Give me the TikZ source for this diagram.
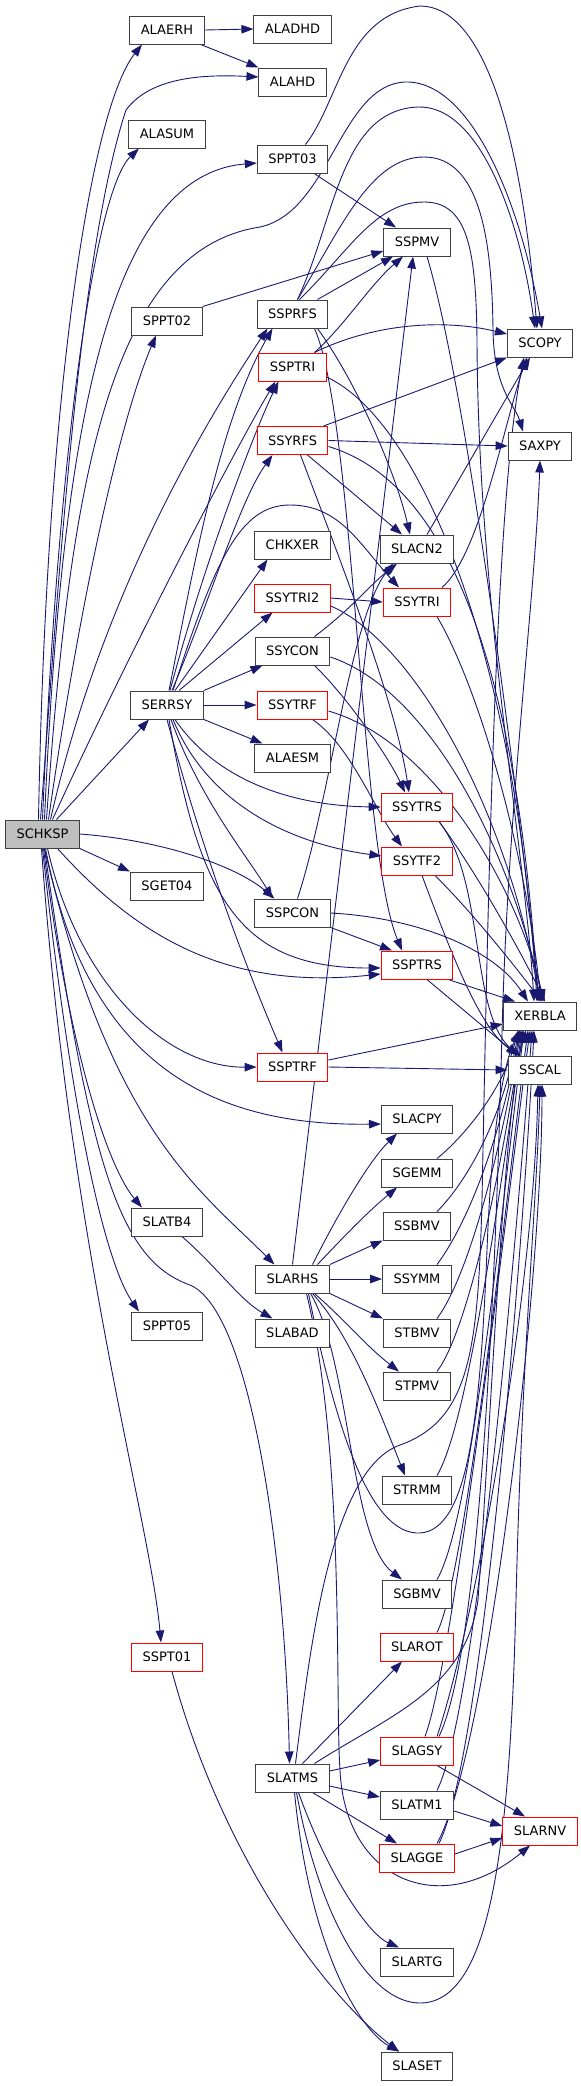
\documentclass[tikz,border=0pt]{standalone}
\usepackage{fontspec}
\setmainfont{DejaVu Sans}
\usepackage{tikz}
\usetikzlibrary{arrows.meta, backgrounds}

\definecolor{edgeblue}{RGB}{25,25,112}
\definecolor{boxline}{RGB}{64,64,64}
\definecolor{rootgray}{RGB}{191,191,191}

\begin{document}
\begin{tikzpicture}[x=1pt, y=-1pt,
    fn/.style={rectangle, draw=boxline, line width=1pt, fill=white, minimum height=28pt, inner xsep=11pt, inner ysep=0pt, font=\fontsize{13}{15}\selectfont},
    redfn/.style={fn, draw=red},
    rootfn/.style={fn, fill=rootgray},
    call/.style={draw=edgeblue, line width=0.9pt, -{Triangle[length=12pt,width=8.5pt]}}]

    \useasboundingbox (0,0) rectangle (581,2086);

    % left columns
    \node [rootfn] (schksp) at (42.5,834) {SCHKSP};
    \node [fn] (alaerh) at (167,30) {ALAERH};
    \node [fn] (alasum) at (167,134) {ALASUM};
    \node [fn] (sppt02) at (167,321) {SPPT02};
    \node [fn] (serrsy) at (167,705) {SERRSY};
    \node [fn] (sget04) at (167,886) {SGET04};
    \node [fn] (slatb4) at (167,1222) {SLATB4};
    \node [fn] (sppt05) at (167,1326) {SPPT05};
    \node [redfn] (sspt01) at (167,1657) {SSPT01};

    % middle column
    \node [fn] (aladhd) at (292.5,29) {ALADHD};
    \node [fn] (alahd) at (292.5,82) {ALAHD};
    \node [fn] (sppt03) at (292.5,159) {SPPT03};
    \node [fn] (ssprfs) at (292.5,314) {SSPRFS};
    \node [redfn] (ssptri) at (292.5,367) {SSPTRI};
    \node [redfn] (ssyrfs) at (292.5,440.5) {SSYRFS};
    \node [fn] (chkxer) at (292.5,545) {CHKXER};
    \node [redfn] (ssytri2) at (292.5,598) {SSYTRI2};
    \node [fn] (ssycon) at (292.5,651) {SSYCON};
    \node [redfn] (ssytrf) at (292.5,705) {SSYTRF};
    \node [fn] (alaesm) at (292.5,758) {ALAESM};
    \node [fn] (sspcon) at (292.5,913) {SSPCON};
    \node [redfn] (ssptrf) at (292.5,1067) {SSPTRF};
    \node [fn] (slarhs) at (292.5,1279) {SLARHS};
    \node [fn] (slabad) at (292.5,1333) {SLABAD};
    \node [fn] (slatms) at (292.5,1778) {SLATMS};

    % third column
    \node [fn] (sspmv) at (417,242) {SSPMV};
    \node [fn] (slacn2) at (417,549) {SLACN2};
    \node [redfn] (ssytri) at (417,602) {SSYTRI};
    \node [redfn] (ssytrs) at (417,807) {SSYTRS};
    \node [redfn] (ssytf2) at (417,861) {SSYTF2};
    \node [redfn] (ssptrs) at (417,965) {SSPTRS};
    \node [fn] (slacpy) at (417,1119) {SLACPY};
    \node [fn] (sgemm) at (417,1173) {SGEMM};
    \node [fn] (ssbmv) at (417,1226) {SSBMV};
    \node [fn] (ssymm) at (417,1279) {SSYMM};
    \node [fn] (stbmv) at (417,1333) {STBMV};
    \node [fn] (stpmv) at (417,1386) {STPMV};
    \node [fn] (strmm) at (417,1490) {STRMM};
    \node [fn] (sgbmv) at (417,1594) {SGBMV};
    \node [redfn] (slarot) at (417,1647) {SLAROT};
    \node [redfn] (slagsy) at (417,1751) {SLAGSY};
    \node [fn] (slatm1) at (417,1805) {SLATM1};
    \node [redfn] (slagge) at (417,1858) {SLAGGE};
    \node [fn] (slartg) at (417,1962) {SLARTG};
    \node [fn] (slaset) at (417,2066) {SLASET};

    % right column
    \node [fn] (scopy) at (540,343) {SCOPY};
    \node [fn] (saxpy) at (540,446) {SAXPY};
    \node [fn] (xerbla) at (540,1016) {XERBLA};
    \node [fn] (sscal) at (540,1070) {SSCAL};
    \node [redfn] (slarnv) at (540,1831) {SLARNV};

    \begin{scope}[on background layer]
    % SCHKSP
    \draw [call] ([xshift=-4pt]schksp.north) .. controls (46,400) and (90,110) .. ([xshift=-25pt]alaerh.south);
    \draw [call] ([xshift=-2pt]schksp.north) .. controls (60,560) and (80,250) .. (126,110) .. controls (150,78) and (200,74) .. ([yshift=5pt]alahd.west);
    \draw [call] (schksp.north) .. controls (58,450) and (95,190) .. ([xshift=-28pt]alasum.south);
    \draw [call] ([xshift=2pt]schksp.north) .. controls (62,420) and (110,175) .. ([yshift=-4pt]sppt03.west);
    \draw [call] ([xshift=4pt]schksp.north) .. controls (70,480) and (110,250) .. (260,227) .. controls (330,212) and (340,85) .. (405,82) .. controls (470,80) and (520,200) .. ([xshift=2pt]scopy.north);
    \draw [call] ([xshift=6pt]schksp.north) .. controls (80,600) and (120,420) .. ([xshift=-11pt]sppt02.south);
    \draw [call] ([xshift=8pt]schksp.north) .. controls (100,600) and (200,430) .. ([xshift=-25pt]ssprfs.south);
    \draw [call] ([xshift=10pt]schksp.north) .. controls (130,650) and (240,440) .. ([xshift=-17pt]ssptri.south);
    \draw [call] ([xshift=14pt]schksp.north) -- ([xshift=-18pt]serrsy.south);
    \draw [call] (schksp.south east) -- (sget04.north west);
    \draw [call] (schksp.east) .. controls (160,840) and (235,865) .. ([xshift=-18pt]sspcon.north);
    \draw [call] ([xshift=15pt]schksp.south) .. controls (140,940) and (230,990) .. ([yshift=-9pt]ssptrs.west);
    \draw [call] ([xshift=5pt]schksp.south) .. controls (80,990) and (170,1068) .. (ssptrf.west);
    \draw [call] ([xshift=3pt]schksp.south) .. controls (90,1080) and (230,1126) .. ([yshift=-5pt]slacpy.west);
    \draw [call] ([xshift=2pt]schksp.south) .. controls (110,1130) and (200,1190) .. ([xshift=-18pt]slarhs.north);
    \draw [call] ([xshift=1pt]schksp.south) .. controls (70,1060) and (110,1170) .. ([xshift=-25pt]slatb4.north);
    \draw [call] (schksp.south) .. controls (75,1150) and (110,1270) .. ([xshift=-28pt]sppt05.north);
    \draw [call] ([xshift=-1pt]schksp.south) .. controls (70,1250) and (150,1520) .. ([xshift=-6pt]sspt01.north);
    \draw [call] ([xshift=2pt]schksp.south) .. controls (90,1170) and (120,1260) .. (190,1285) .. controls (250,1310) and (285,1550) .. ([xshift=-3pt]slatms.north);

    % ALAERH, SPPT03, SPPT02
    \draw [call] (alaerh.east) -- (aladhd.west);
    \draw [call] ([xshift=-4pt]alaerh.south east) -- (alahd.north west);
    \draw [call] ([xshift=-14pt]sppt03.south east) -- ([xshift=-21pt]sspmv.north);
    \draw [call] ([xshift=13pt]sppt03.north) .. controls (340,100) and (345,15) .. (420,6) .. controls (480,6) and (520,120) .. ([xshift=-3pt]scopy.north);
    \draw [call] (sppt02.north east) -- ([yshift=-9pt]sspmv.west);

    % SSPRFS
    \draw [call] ([xshift=25pt]ssprfs.north) -- ([xshift=-24pt]sspmv.south);
    \draw [call] ([xshift=5pt]ssprfs.north) .. controls (335,220) and (340,110) .. (418,107) .. controls (480,105) and (520,220) .. ([xshift=-5pt]scopy.north);
    \draw [call] ([xshift=5pt]ssprfs.north) .. controls (340,230) and (370,157) .. (424,157) .. controls (480,157) and (492,240) .. (493,330) .. controls (494,390) and (515,405) .. ([xshift=-17pt]saxpy.north);
    \draw [call] ([xshift=7pt]ssprfs.north) .. controls (350,250) and (375,202) .. (424,202) .. controls (468,202) and (476,250) .. (477,340) .. controls (478,600) and (525,850) .. ([xshift=-6pt]xerbla.north);
    \draw [call] ([xshift=25pt]ssprfs.south) .. controls (355,380) and (395,470) .. ([xshift=-7pt]slacn2.north);
    \draw [call] ([xshift=22pt]ssprfs.south) .. controls (355,420) and (360,850) .. ([xshift=-15pt]ssptrs.north);

    % SSPTRI
    \draw [call] ([xshift=22pt]ssptri.north) .. controls (370,325) and (440,318) .. ([yshift=9pt]scopy.west);
    \draw [call] ([xshift=22pt]ssptri.north) .. controls (345,325) and (370,285) .. ([xshift=-14pt]sspmv.south);
    \draw [call] ([yshift=-10pt]ssptri.east) .. controls (420,420) and (515,650) .. ([xshift=-3pt]xerbla.north);

    % SSYRFS
    \draw [call] ([xshift=-5pt]ssyrfs.north east) -- (scopy.south west);
    \draw [call] (ssyrfs.east) -- (saxpy.west);
    \draw [call] ([xshift=15pt]ssyrfs.south) -- ([xshift=-15pt]slacn2.north);
    \draw [call] ([xshift=8pt]ssyrfs.south) .. controls (340,560) and (395,700) .. ([xshift=-8pt]ssytrs.north);
    \draw [call] ([yshift=-6pt]ssyrfs.east) .. controls (440,480) and (515,640) .. ([xshift=-2pt]xerbla.north);
    \draw [call] ([xshift=10pt]slacn2.north) -- ([xshift=-10pt]scopy.south);

    % SERRSY
    \draw [call] ([xshift=2pt]serrsy.north) .. controls (195,560) and (220,420) .. ([xshift=-20pt]ssprfs.south);
    \draw [call] ([xshift=3pt]serrsy.north) .. controls (205,560) and (255,430) .. ([xshift=-14pt]ssptri.south);
    \draw [call] ([xshift=5pt]serrsy.north) .. controls (210,600) and (240,500) .. ([xshift=-20pt]ssyrfs.south);
    \draw [call] ([xshift=6pt]serrsy.north) .. controls (215,560) and (240,505) .. (290,505) .. controls (340,505) and (360,545) .. ([xshift=-18pt]ssytri.north);
    \draw [call] ([xshift=8pt]serrsy.north) -- ([xshift=-25pt]chkxer.south);
    \draw [call] ([xshift=12pt]serrsy.north) -- ([xshift=-20pt]ssytri2.south);
    \draw [call] (serrsy.north east) -- ([xshift=-30pt]ssycon.south);
    \draw [call] (serrsy.east) -- (ssytrf.west);
    \draw [call] (serrsy.south east) -- ([xshift=-30pt]alaesm.north);
    \draw [call] ([xshift=8pt]serrsy.south) .. controls (220,785) and (300,806) .. (ssytrs.west);
    \draw [call] ([xshift=6pt]serrsy.south) .. controls (210,810) and (300,845) .. ([yshift=5pt]ssytf2.west);
    \draw [call] ([xshift=4pt]serrsy.south) .. controls (200,800) and (250,860) .. ([xshift=-20pt]sspcon.north);
    \draw [call] ([xshift=2pt]serrsy.south) .. controls (200,900) and (240,968) .. ([yshift=-3pt]ssptrs.west);
    \draw [call] (serrsy.south) .. controls (210,880) and (260,1000) .. ([xshift=-10pt]ssptrf.north);

    % SSYTRI2, SSYTRI, SSYCON, SSYTRF
    \draw [call] (ssytri2.east) -- (ssytri.west);
    \draw [call] ([yshift=-8pt]ssytri2.east) .. controls (410,640) and (505,800) .. (xerbla.north);
    \draw [call] ([xshift=25pt]ssytri.north) .. controls (480,555) and (505,420) .. ([xshift=-13pt]scopy.south);
    \draw [call] ([xshift=20pt]ssytri.south) .. controls (480,690) and (525,850) .. ([xshift=1pt]xerbla.north);
    \draw [call] ([xshift=22pt]ssycon.north) .. controls (350,610) and (370,585) .. ([xshift=-20pt]slacn2.south);
    \draw [call] ([xshift=22pt]ssycon.south) .. controls (350,700) and (390,760) .. ([xshift=-12pt]ssytrs.north);
    \draw [call] ([yshift=-6pt]ssycon.east) .. controls (430,690) and (510,850) .. ([xshift=3pt]xerbla.north);
    \draw [call] ([xshift=20pt]ssytrf.south) .. controls (350,745) and (375,810) .. ([xshift=-15pt]ssytf2.north);
    \draw [call] ([yshift=-6pt]ssytrf.east) .. controls (430,740) and (515,880) .. ([xshift=4pt]xerbla.north);

    % SSYTRS, SSYTF2, SSPCON, SSPTRS, SSPTRF, SSPMV
    \draw [call] ([xshift=22pt]ssytrs.south) .. controls (475,870) and (520,950) .. ([xshift=5pt]xerbla.north);
    \draw [call] ([xshift=22pt]ssytrs.south) .. controls (485,880) and (470,1010) .. ([xshift=-22pt]sscal.north);
    \draw [call] ([xshift=18pt]ssytf2.south) .. controls (470,910) and (510,960) .. ([xshift=2pt]xerbla.north);
    \draw [call] ([xshift=5pt]ssytf2.south) .. controls (450,950) and (480,1030) .. ([xshift=-20pt]sscal.north);
    \draw [call] ([xshift=5pt]sspcon.north) .. controls (330,800) and (350,620) .. ([xshift=-24pt]slacn2.south);
    \draw [call] (sspcon.south east) -- ([xshift=-25pt]ssptrs.north);
    \draw [call] (sspcon.east) .. controls (420,918) and (495,950) .. ([xshift=-12pt]xerbla.north);
    \draw [call] ([xshift=-5pt]ssptrs.south east) -- ([xshift=-25pt]xerbla.north);
    \draw [call] ([xshift=10pt]ssptrs.south) -- ([xshift=-22pt]sscal.north);
    \draw [call] ([yshift=7pt]ssptrf.east) -- ([yshift=-8pt]xerbla.west);
    \draw [call] (ssptrf.east) -- (sscal.west);
    \draw [call] ([xshift=10pt]sspmv.south) .. controls (470,400) and (525,850) .. ([xshift=-1pt]xerbla.north);

    % SLARHS
    \draw [call] (slarhs.north) -- ([xshift=-4pt]sspmv.south);
    \draw [call] ([xshift=20pt]slarhs.north) .. controls (340,1210) and (370,1160) .. ([xshift=-20pt]slacpy.south);
    \draw [call] ([xshift=25pt]slarhs.north) .. controls (350,1230) and (370,1210) .. ([xshift=-20pt]sgemm.south);
    \draw [call] (slarhs.north east) -- (ssbmv.south west);
    \draw [call] (slarhs.east) -- (ssymm.west);
    \draw [call] (slarhs.south east) -- (stbmv.north west);
    \draw [call] ([xshift=22pt]slarhs.south) .. controls (345,1320) and (365,1345) .. ([xshift=-18pt]stpmv.north);
    \draw [call] ([xshift=20pt]slarhs.south) .. controls (350,1335) and (375,1400) .. ([xshift=-12pt]strmm.north);
    \draw [call] ([xshift=18pt]slarhs.south) .. controls (350,1360) and (350,1540) .. ([xshift=-15pt]sgbmv.north);
    \draw [call] ([xshift=16pt]slarhs.south) .. controls (340,1450) and (375,1535) .. (420,1533) .. controls (468,1530) and (480,1420) .. (487,1250) .. controls (492,1120) and (505,1060) .. ([xshift=-20pt]xerbla.south);
    \draw [call] ([xshift=14pt]slarhs.south) .. controls (345,1450) and (335,1700) .. (340,1770) .. controls (345,1880) and (440,1920) .. ([xshift=-10pt]slarnv.south);

    % level 2/3 routines
    \draw [call] ([xshift=20pt]sgemm.north) .. controls +(25,-20) and +(-15,60) .. ([xshift=-22pt]xerbla.south);
    \draw [call] ([xshift=20pt]ssbmv.north) .. controls +(30,-30) and +(-18,90) .. ([xshift=-21pt]xerbla.south);
    \draw [call] ([xshift=20pt]ssymm.north) .. controls +(30,-40) and +(-20,110) .. ([xshift=-20pt]xerbla.south);
    \draw [call] ([xshift=20pt]stbmv.north) .. controls +(30,-40) and +(-22,130) .. ([xshift=-19pt]xerbla.south);
    \draw [call] ([xshift=20pt]stpmv.north) .. controls +(30,-40) and +(-22,150) .. ([xshift=-18pt]xerbla.south);
    \draw [call] ([xshift=20pt]strmm.north) .. controls +(30,-50) and +(-24,170) .. ([xshift=-17pt]xerbla.south);
    \draw [call] ([xshift=20pt]sgbmv.north) .. controls +(35,-60) and +(-24,190) .. ([xshift=-16pt]xerbla.south);

    % SLATB4, SSPT01
    \draw [call] ([xshift=15pt]slatb4.south) .. controls (220,1270) and (240,1300) .. ([xshift=-20pt]slabad.north);
    \draw [call] ([xshift=5pt]sspt01.south) .. controls (220,1850) and (320,1990) .. ([xshift=-18pt]slaset.north);

    % SLATMS
    \draw [call] ([xshift=10pt]slatms.north) -- ([xshift=-15pt]slarot.south);
    \draw [call] ([yshift=7pt]slatms.east) -- ([yshift=-9pt]slagsy.west);
    \draw [call] ([yshift=-8pt]slatms.east) -- ([yshift=8pt]slatm1.west);
    \draw [call] ([xshift=20pt]slatms.south) -- ([xshift=-20pt]slagge.north);
    \draw [call] ([xshift=6pt]slatms.south) .. controls (330,1880) and (370,1935) .. ([xshift=-18pt]slartg.north);
    \draw [call] ([xshift=2pt]slatms.south) .. controls (310,1950) and (360,2030) .. ([xshift=-18pt]slaset.north);
    \draw [call] ([xshift=4pt]slatms.south) .. controls (320,1920) and (370,2003) .. (420,2003) .. controls (490,2003) and (510,1850) .. (516,1600) .. controls (522,1350) and (537,1200) .. (sscal.south);
    \draw [call] ([xshift=22pt]slatms.north) .. controls (390,1715) and (465,1690) .. (478,1600) .. controls (492,1400) and (505,1100) .. ([xshift=-14pt]xerbla.south);
    \draw [call] ([xshift=3pt]slatms.north) .. controls (310,1650) and (330,1470) .. (400,1445) .. controls (470,1420) and (478,1350) .. (482,1200) .. controls (488,900) and (495,500) .. ([xshift=-16pt]scopy.south);

    % SLAROT, SLAGSY, SLATM1, SLAGGE
    \draw [call] ([xshift=20pt]slarot.north) .. controls +(30,-60) and +(-20,150) .. ([xshift=-12pt]xerbla.south);
    \draw [call] ([xshift=8pt]slagsy.north) .. controls +(30,-80) and +(-20,150) .. ([xshift=-10pt]xerbla.south);
    \draw [call] ([xshift=22pt]slagsy.north) .. controls (480,1650) and (495,1300) .. (502,1033) .. controls (508,800) and (535,600) .. (saxpy.south);
    \draw [call] ([xshift=20pt]slagsy.north) .. controls +(40,-120) and +(-4,200) .. ([xshift=-2pt]sscal.south);
    \draw [call] ([xshift=20pt]slagsy.south) -- ([xshift=-15pt]slarnv.north);
    \draw [call] ([xshift=20pt]slatm1.north) .. controls +(40,-80) and +(-15,200) .. ([xshift=-8pt]xerbla.south);
    \draw [call] ([yshift=-6pt]slatm1.east) -- ([yshift=5pt]slarnv.west);
    \draw [call] ([xshift=22pt]slagge.north) .. controls +(45,-90) and +(-10,200) .. ([xshift=-6pt]xerbla.south);
    \draw [call] ([xshift=20pt]slagge.north) .. controls +(50,-90) and +(0,200) .. ([xshift=2pt]sscal.south);
    \draw [call] ([yshift=4pt]slagge.east) -- ([yshift=-7pt]slarnv.west);
    \end{scope}
\end{tikzpicture}
\end{document}
